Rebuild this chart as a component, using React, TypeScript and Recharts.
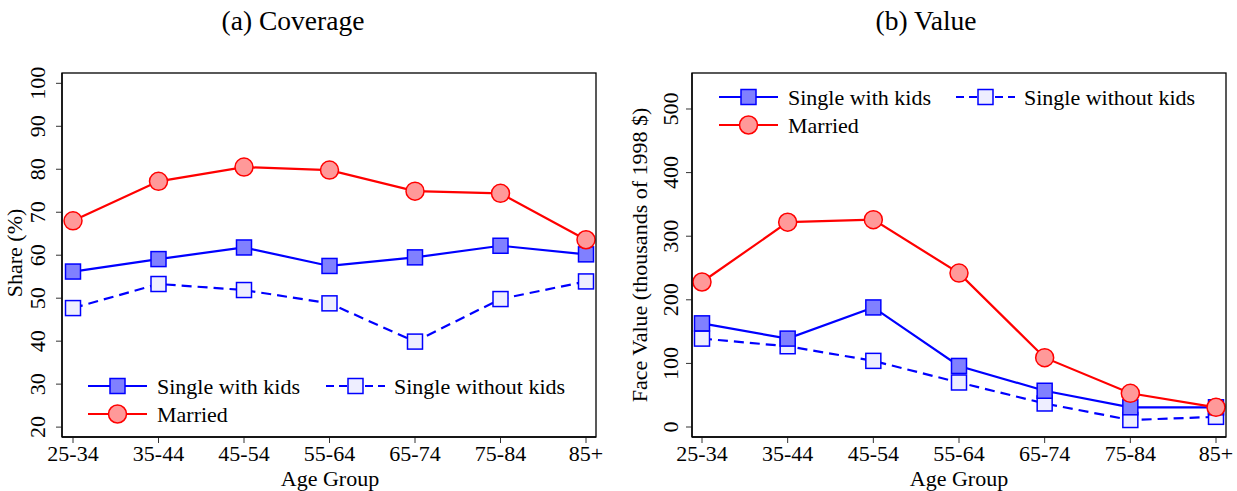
import React from "react";
import { LineChart, Line, XAxis, YAxis } from "recharts";

const ageGroups = ["25-34", "35-44", "45-54", "55-64", "65-74", "75-84", "85+"];

const coverageWithKids = [56.2, 59.1, 61.8, 57.5, 59.5, 62.2, 60.2];
const coverageWithoutKids = [47.7, 53.3, 51.9, 48.8, 39.9, 49.8, 53.9];
const coverageMarried = [68.0, 77.2, 80.5, 79.8, 74.9, 74.4, 63.6];

const valueWithKids = [163, 139, 188, 96, 57, 31, 31];
const valueWithoutKids = [139, 127, 104, 70, 37, 11, 16];
const valueMarried = [228, 322, 326, 242, 109, 53, 31];

const coverageTicks = [20, 30, 40, 50, 60, 70, 80, 90, 100];
const valueTicks = [0, 100, 200, 300, 400, 500];

const coverageDomain = [17.7, 102.4];
const valueDomain = [-15.7, 556.6];

const legendLabels = ["Single with kids", "Single without kids", "Married"];

const FONT = "'Liberation Serif', 'Times New Roman', serif";
const FS = 22;
const BLUE = "#0000ff";
const RED = "#ff0000";
const FILL_SQ = "#8080ff";
const FILL_OPEN = "#eeeeff";
const FILL_CIRC = "#ff9999";
const DASH = "10 6";

const build = (a: number[], b: number[], c: number[]) =>
  ageGroups.map((age, i) => ({ age, withKids: a[i], withoutKids: b[i], married: c[i] }));

const coverageData = build(coverageWithKids, coverageWithoutKids, coverageMarried);
const valueData = build(valueWithKids, valueWithoutKids, valueMarried);

const squareDot = (fill: string) => (props: any) => {
  const { cx, cy, index } = props;
  if (cx == null || cy == null) return <g key={index} />;
  return (
    <rect key={index} x={cx - 7.5} y={cy - 7.5} width={15} height={15} fill={fill} stroke={BLUE} strokeWidth={1.5} />
  );
};

const circleDot = (props: any) => {
  const { cx, cy, index } = props;
  if (cx == null || cy == null) return <g key={index} />;
  return <circle key={index} cx={cx} cy={cy} r={9} fill={FILL_CIRC} stroke={RED} strokeWidth={1.5} />;
};

const YTick = (offset: number) => (props: any) => {
  const { x, y, payload } = props;
  const tx = x - offset;
  return (
    <text
      x={tx}
      y={y}
      transform={`rotate(-90, ${tx}, ${y})`}
      textAnchor="middle"
      fontFamily={FONT}
      fontSize={FS}
      fill="#000"
    >
      {payload.value}
    </text>
  );
};

const LegendIcon = ({ x, y, kind }: { x: number; y: number; kind: string }) => {
  if (kind === "married") {
    return (
      <g>
        <line x1={x} y1={y} x2={x + 59} y2={y} stroke={RED} strokeWidth={2.2} />
        <circle cx={x + 29.5} cy={y} r={9} fill={FILL_CIRC} stroke={RED} strokeWidth={1.5} />
      </g>
    );
  }
  if (kind === "withKids") {
    return (
      <g>
        <line x1={x} y1={y} x2={x + 59} y2={y} stroke={BLUE} strokeWidth={2.2} />
        <rect x={x + 22} y={y - 7.5} width={15} height={15} fill={FILL_SQ} stroke={BLUE} strokeWidth={1.5} />
      </g>
    );
  }
  return (
    <g>
      <line x1={x} y1={y} x2={x + 59} y2={y} stroke={BLUE} strokeWidth={2.2} strokeDasharray="8 5" />
      <rect x={x + 22} y={y - 7.5} width={15} height={15} fill={FILL_OPEN} stroke={BLUE} strokeWidth={1.5} />
    </g>
  );
};

const LegendBlock = ({ x, y, secondX }: { x: number; y: number; secondX: number }) => (
  <g transform={`translate(${x}, ${y})`}>
    <LegendIcon x={0} y={0} kind="withKids" />
    <text x={69} y={7.5} fontFamily={FONT} fontSize={FS} fill="#000">{legendLabels[0]}</text>
    <LegendIcon x={secondX} y={0} kind="withoutKids" />
    <text x={secondX + 68} y={7.5} fontFamily={FONT} fontSize={FS} fill="#000">{legendLabels[1]}</text>
    <LegendIcon x={0} y={28} kind="married" />
    <text x={69} y={35.5} fontFamily={FONT} fontSize={FS} fill="#000">{legendLabels[2]}</text>
  </g>
);

type PanelProps = {
  data: any[];
  width: number;
  marginLeft: number;
  marginRight: number;
  domain: number[];
  ticks: number[];
  tickOffset: number;
  padLeft: number;
  padRight: number;
};

const Panel = (p: PanelProps) => (
  <LineChart
    width={p.width}
    height={491}
    data={p.data}
    margin={{ top: 73, right: p.marginRight, bottom: 24, left: p.marginLeft }}
  >
    <XAxis
      dataKey="age"
      height={30}
      padding={{ left: p.padLeft, right: p.padRight }}
      axisLine={{ stroke: "#000", strokeWidth: 1.3 }}
      tickLine={{ stroke: "#333", strokeWidth: 1 }}
      tickSize={6}
      tickMargin={2}
      tick={{ fontFamily: FONT, fontSize: FS, fill: "#000" }}
      interval={0}
    />
    <YAxis
      type="number"
      domain={p.domain}
      ticks={p.ticks}
      allowDataOverflow
      width={60}
      axisLine={{ stroke: "#000", strokeWidth: 1.3 }}
      tickLine={{ stroke: "#333", strokeWidth: 1 }}
      tickSize={6}
      tickMargin={0}
      tick={YTick(p.tickOffset)}
      interval={0}
    />
    <Line
      dataKey="withoutKids"
      stroke={BLUE}
      strokeWidth={2.2}
      strokeDasharray={DASH}
      dot={squareDot(FILL_OPEN)}
      activeDot={false}
      isAnimationActive={false}
    />
    <Line
      dataKey="withKids"
      stroke={BLUE}
      strokeWidth={2.2}
      dot={squareDot(FILL_SQ)}
      activeDot={false}
      isAnimationActive={false}
    />
    <Line
      dataKey="married"
      stroke={RED}
      strokeWidth={2.2}
      dot={circleDot}
      activeDot={false}
      isAnimationActive={false}
    />
  </LineChart>
);

export default function App() {
  return (
    <div style={{ position: "absolute", left: 0, top: 0, width: 1237, height: 491, background: "#fff" }}>
      <div style={{ position: "absolute", left: 0, top: 0 }}>
        <Panel
          data={coverageData}
          width={620}
          marginLeft={2}
          marginRight={24}
          domain={coverageDomain}
          ticks={coverageTicks}
          tickOffset={11}
          padLeft={11}
          padRight={10}
        />
      </div>
      <div style={{ position: "absolute", left: 620, top: 0 }}>
        <Panel
          data={valueData}
          width={617}
          marginLeft={12}
          marginRight={11}
          domain={valueDomain}
          ticks={valueTicks}
          tickOffset={8}
          padLeft={10}
          padRight={10}
        />
      </div>
      <svg
        width={1237}
        height={491}
        style={{ position: "absolute", left: 0, top: 0, pointerEvents: "none" }}
      >
        <rect x={62} y={73} width={534} height={364} fill="none" stroke="#000" strokeWidth={1.3} />
        <rect x={692} y={73} width={534} height={364} fill="none" stroke="#000" strokeWidth={1.3} />
        <LegendBlock x={88} y={386} secondX={238} />
        <LegendBlock x={719} y={97} secondX={237} />
        <text x={293} y={30} textAnchor="middle" fontFamily={FONT} fontSize={27.5} fill="#000">(a) Coverage</text>
        <text x={926} y={30} textAnchor="middle" fontFamily={FONT} fontSize={27.5} fill="#000">(b) Value</text>
        <text x={330} y={486} textAnchor="middle" fontFamily={FONT} fontSize={FS} fill="#000">Age Group</text>
        <text x={959} y={486} textAnchor="middle" fontFamily={FONT} fontSize={FS} fill="#000">Age Group</text>
        <text x={22} y={253} textAnchor="middle" transform="rotate(-90, 22, 253)" fontFamily={FONT} fontSize={FS} fill="#000">Share (%)</text>
        <text x={647} y={255} textAnchor="middle" transform="rotate(-90, 647, 255)" fontFamily={FONT} fontSize={FS} fill="#000">Face Value (thousands of 1998 $)</text>
      </svg>
    </div>
  );
}
